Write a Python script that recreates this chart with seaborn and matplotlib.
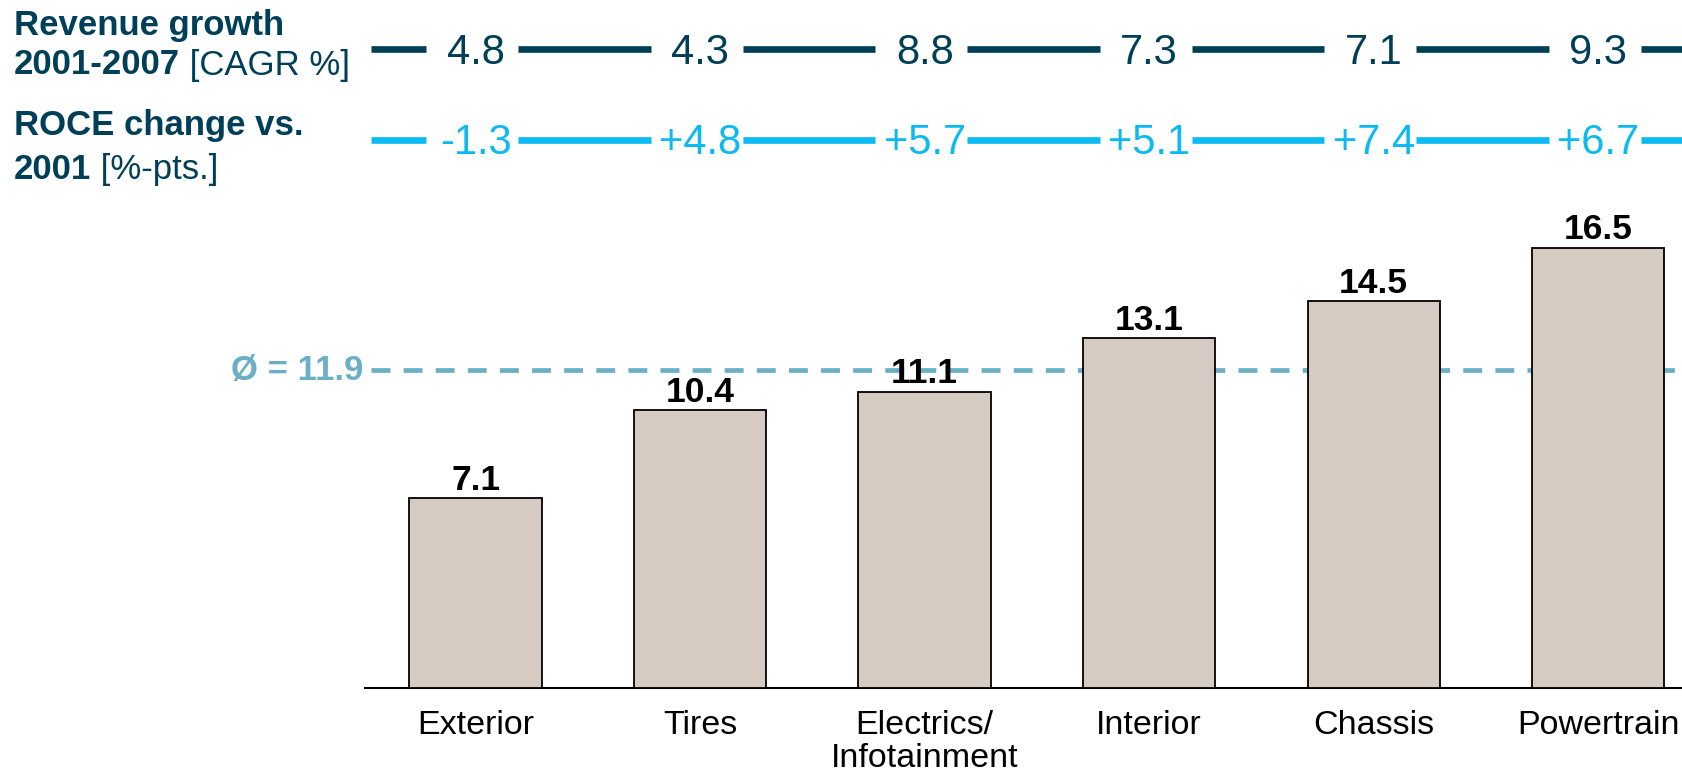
import numpy as np
import matplotlib
matplotlib.use("Agg")
import matplotlib.pyplot as plt
import seaborn as sns

# Datos
categories = ["Exterior", "Tires", "Electrics/\nInfotainment", "Interior", "Chassis", "Powertrain"]
roce_2007 = [7.1, 10.4, 11.1, 13.1, 14.5, 16.5]
revenue_cagr = [4.8, 4.3, 8.8, 7.3, 7.1, 9.3]
roce_change = [-1.3, 4.8, 5.7, 5.1, 7.4, 6.7]
average = 11.9

DARK = "#003f58"
LIGHT = "#0bbaf2"
AVG = "#6aafc6"
BAR = "#d5cbc2"

sns.set_style("white")
plt.rcParams["font.family"] = ["Liberation Sans", "DejaVu Sans"]

W, H = 1682, 774
fig = plt.figure(figsize=(W / 100, H / 100), dpi=100)

left = 365 / W
xlim = (-0.493, 5.373)

# Eje principal con las barras
ax = fig.add_axes([left, (H - 687.6) / H, 1 - left, (687.6 - 200) / H])
sns.barplot(x=categories, y=roce_2007, color=BAR, saturation=1, edgecolor="black",
            linewidth=1.3, width=0.59, ax=ax, zorder=3)
ax.set_xlim(*xlim)
ax.set_ylim(0, (687.6 - 200) / 26.65)
ax.bar_label(ax.containers[0], labels=[f"{v:.1f}" for v in roce_2007], padding=1,
             fontsize=25.5, fontweight="bold", color="black")

# Línea de promedio
ax.hlines(average, -0.466, 6, colors=AVG, linewidth=3.4, linestyles=(0, (4, 2.8)), zorder=1)
ax.text(-0.5, average, f"Ø = {average}", transform=ax.transData, ha="right", va="center",
        fontsize=25, fontweight="bold", color=AVG, clip_on=False)

sns.despine(ax=ax, left=True)
ax.spines["bottom"].set_linewidth(1.5)
ax.spines["bottom"].set_color("black")
ax.set_yticks([])
ax.tick_params(axis="x", length=0, pad=16, labelsize=24.5, labelcolor="black")
for lbl in ax.get_xticklabels():
    lbl.set_linespacing(1.1)
ax.grid(False)

# Filas superiores
top = fig.add_axes([left, 1 - 190 / H, 1 - left, 190 / H])
top.set_xlim(*xlim)
top.set_ylim(190, 0)
top.axis("off")

n = len(categories)
rows = [(49.3, revenue_cagr, DARK, lambda v: f"{v:.1f}"),
        (139.5, roce_change, LIGHT, lambda v: f"{v:+.1f}")]
for y, vals, col, fmt in rows:
    top.hlines(y, -0.466, -0.22, colors=col, linewidth=4.8)
    for i in range(n):
        top.hlines(y, i + 0.19, i + 0.78, colors=col, linewidth=4.8)
        top.text(i, y + 3.5, fmt(vals[i]), ha="center", va="center", fontsize=30, color=col)

# Etiquetas de la izquierda
def label(y, bold, regular=None):
    t = fig.text(14 / W, 1 - y / H, bold, ha="left", va="center", fontsize=25,
                 fontweight="bold", color=DARK)
    if regular:
        plt.annotate(regular, xy=(1, 0), xycoords=t, va="bottom", ha="left",
                     fontsize=25, color=DARK, annotation_clip=False)

label(25, "Revenue growth")
label(65, "2001-2007", " [CAGR %]")
label(125.5, "ROCE change vs.")
label(169.5, "2001", " [%-pts.]")

fig.savefig("out.png", dpi=100)
